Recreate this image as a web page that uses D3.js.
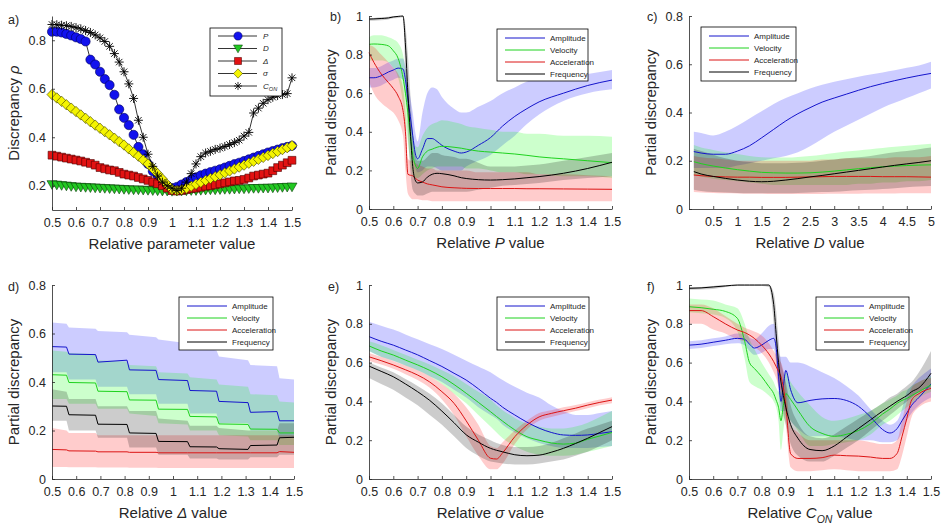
<!DOCTYPE html>
<html><head><meta charset="utf-8">
<script src="https://cdn.jsdelivr.net/npm/d3@7"></script>
<style>
body{margin:0;background:#fff}
svg{display:block}
text{font-family:"Liberation Sans",Arial,Helvetica,sans-serif;fill:#262626}
</style>
</head><body>
<svg id="chart" width="944" height="526"></svg>
<script>
// ---------- tick labels ----------
const xTicks = [0.5,0.6,0.7,0.8,0.9,1,1.1,1.2,1.3,1.4,1.5];
const cXTicks = [0.5,1,1.5,2,2.5,3,3.5,4,4.5,5];
const yTicksA = [0.2,0.4,0.6,0.8];
const yTicks1 = [0,0.2,0.4,0.6,0.8,1];
const yTicks08 = [0,0.2,0.4,0.6,0.8];
const seriesNames = ["Amplitude","Velocity","Acceleration","Frequency"];

// ---------- panel a ----------
const aX = [0.50,0.52,0.54,0.56,0.58,0.60,0.62,0.64,0.66,0.68,0.70,0.72,0.74,0.76,0.78,0.80,0.82,0.84,0.86,0.88,0.90,0.92,0.94,0.96,0.98,1.00,1.02,1.04,1.06,1.08,1.10,1.12,1.14,1.16,1.18,1.20,1.22,1.24,1.26,1.28,1.30,1.32,1.34,1.36,1.38,1.40,1.42,1.44,1.46,1.48,1.50];
const aP = [.835,.835,.832,.826,.82,.812,.805,.795,.72,.70,.67,.64,.615,.575,.515,.48,.45,.41,.36,.33,.29,.26,.24,.22,.20,.19,.195,.205,.215,.225,.235,.243,.25,.256,.262,.268,.275,.282,.289,.295,.302,.309,.316,.323,.33,.337,.343,.349,.355,.36,.365];
const aD = [.205,.203,.201,.199,.197,.195,.194,.193,.192,.191,.19,.189,.188,.187,.186,.185,.184,.183,.183,.182,.181,.18,.179,.178,.178,.177,.178,.178,.179,.18,.18,.181,.182,.183,.183,.184,.185,.185,.186,.187,.187,.188,.189,.189,.19,.19,.191,.192,.193,.194,.195];
const aDelta = [.326,.322,.318,.314,.31,.306,.302,.297,.292,.285,.275,.27,.265,.262,.255,.248,.244,.24,.234,.228,.222,.215,.208,.2,.19,.18,.178,.18,.184,.188,.19,.194,.198,.2,.204,.208,.212,.216,.22,.222,.226,.232,.24,.244,.248,.252,.262,.275,.285,.295,.305];
const aSigma = [.576,.562,.548,.534,.52,.506,.492,.478,.464,.45,.437,.423,.41,.396,.382,.368,.352,.337,.322,.306,.29,.27,.25,.228,.205,.185,.18,.184,.19,.198,.206,.214,.222,.23,.237,.245,.253,.261,.269,.277,.285,.293,.301,.309,.317,.325,.333,.341,.349,.357,.365];
const aCon = [.865,.864,.862,.86,.857,.852,.847,.84,.832,.822,.81,.795,.775,.745,.71,.67,.62,.56,.47,.4,.33,.28,.24,.215,.2,.19,.18,.19,.215,.25,.29,.32,.335,.342,.35,.355,.362,.37,.378,.388,.405,.42,.5,.52,.54,.555,.565,.572,.576,.58,.645];

// ---------- panel b ----------
const bX = [0.5,0.52,0.55,0.58,0.6,0.62,0.64,0.65,0.66,0.67,0.68,0.69,0.7,0.72,0.74,0.76,0.78,0.8,0.85,0.88,0.9,0.95,1.0,1.05,1.1,1.15,1.2,1.3,1.4,1.5];
const bAmp   = [.68,.68,.69,.71,.72,.73,.725,.67,.57,.48,.38,.29,.26,.31,.365,.365,.35,.33,.3,.29,.295,.33,.37,.43,.48,.52,.555,.6,.64,.668];
const bAmpLo = [.63,.63,.64,.66,.67,.68,.67,.6,.5,.4,.3,.22,.19,.2,.22,.22,.21,.2,.2,.2,.22,.25,.28,.33,.38,.44,.49,.56,.6,.62];
const bAmpHi = [.73,.73,.74,.76,.77,.78,.78,.74,.66,.58,.5,.4,.35,.5,.6,.63,.62,.58,.52,.5,.5,.53,.56,.6,.63,.66,.68,.69,.7,.72];
const bVel   = [.853,.855,.853,.845,.82,.78,.68,.6,.5,.38,.28,.23,.21,.27,.3,.31,.32,.325,.32,.315,.31,.3,.295,.29,.285,.278,.27,.26,.25,.24];
const bVelLo = [.77,.77,.77,.76,.73,.68,.55,.45,.35,.25,.18,.16,.16,.18,.2,.21,.22,.22,.22,.22,.21,.21,.2,.19,.19,.18,.18,.17,.17,.16];
const bVelHi = [.89,.9,.9,.89,.88,.86,.8,.72,.62,.5,.4,.33,.32,.38,.42,.44,.45,.46,.45,.44,.43,.42,.41,.4,.4,.39,.39,.38,.38,.375];
const bAcc   = [.81,.76,.7,.655,.625,.585,.51,.4,.18,.175,.172,.16,.15,.14,.13,.125,.12,.115,.11,.108,.107,.106,.106,.106,.106,.105,.105,.104,.103,.102];
const bAccLo = [.66,.6,.55,.52,.5,.46,.38,.2,.08,.06,.05,.05,.05,.045,.045,.04,.04,.04,.04,.04,.04,.04,.04,.04,.04,.04,.04,.04,.04,.04];
const bAccHi = [.85,.84,.8,.76,.73,.7,.63,.5,.26,.25,.25,.24,.23,.22,.21,.21,.2,.2,.2,.2,.2,.19,.19,.19,.19,.19,.18,.18,.175,.17];
const bFreq   = [.984,.985,.987,.99,.995,.998,1.0,.85,.6,.4,.22,.15,.135,.14,.165,.18,.185,.183,.172,.162,.158,.152,.15,.152,.156,.162,.168,.185,.21,.242];
const bFreqLo = [.975,.976,.978,.982,.988,.99,.993,.7,.4,.2,.1,.08,.07,.07,.08,.09,.09,.09,.09,.09,.09,.1,.11,.12,.125,.13,.135,.15,.16,.17];
const bFreqHi = [.99,.99,.993,.996,1,1,1,.95,.8,.6,.4,.28,.25,.25,.27,.29,.29,.28,.27,.26,.26,.24,.22,.22,.22,.225,.23,.25,.27,.29];

// ---------- panel c ----------
const cX = [0.1,0.25,0.5,0.75,1,1.25,1.5,1.75,2,2.25,2.5,2.75,3,3.25,3.5,3.75,4,4.25,4.5,4.75,5];
const cAmp   = [.238,.232,.227,.227,.24,.262,.295,.33,.365,.395,.42,.443,.46,.476,.492,.507,.52,.532,.543,.553,.562];
const cAmpLo = [.17,.17,.17,.17,.18,.19,.2,.21,.22,.235,.26,.29,.32,.345,.37,.395,.42,.44,.46,.48,.5];
const cAmpHi = [.32,.315,.305,.32,.345,.375,.405,.435,.46,.48,.5,.515,.527,.538,.548,.557,.566,.575,.585,.595,.61];
const cVel   = [.196,.188,.178,.17,.163,.157,.152,.15,.149,.149,.15,.153,.157,.162,.167,.171,.175,.178,.18,.182,.183];
const cVelLo = [.14,.135,.125,.12,.115,.11,.105,.1,.1,.1,.1,.1,.1,.1,.105,.105,.11,.11,.115,.115,.12];
const cVelHi = [.265,.255,.245,.235,.228,.22,.215,.213,.213,.216,.22,.225,.232,.238,.243,.248,.253,.258,.262,.266,.27];
const cAcc   = [.141,.138,.135,.133,.132,.132,.131,.131,.131,.132,.133,.134,.135,.135,.135,.135,.134,.134,.134,.133,.132];
const cAccLo = [.07,.068,.066,.065,.064,.063,.063,.062,.062,.062,.062,.062,.063,.063,.063,.064,.064,.064,.065,.065,.065];
const cAccHi = [.22,.215,.21,.205,.2,.2,.2,.2,.2,.2,.2,.205,.205,.21,.21,.21,.21,.215,.215,.215,.22];
const cFreq   = [.155,.145,.135,.127,.12,.115,.113,.115,.12,.126,.133,.139,.146,.153,.16,.167,.174,.181,.187,.193,.2];
const cFreqLo = [.08,.075,.07,.068,.066,.065,.065,.065,.065,.066,.068,.07,.072,.075,.078,.08,.083,.086,.09,.093,.095];
const cFreqHi = [.25,.24,.225,.21,.2,.195,.19,.19,.19,.192,.195,.2,.205,.21,.215,.22,.228,.235,.24,.248,.255];

// ---------- panel d ----------
const dX = [0.5,0.56,0.57,0.68,0.69,0.81,0.82,0.93,0.94,1.06,1.07,1.18,1.19,1.31,1.32,1.43,1.44,1.5];
const dAmp   = [.546,.544,.515,.513,.482,.49,.45,.448,.41,.406,.365,.362,.32,.315,.275,.278,.24,.24];
const dAmpLo = [.44,.44,.41,.41,.38,.38,.35,.35,.31,.31,.27,.27,.23,.23,.2,.2,.17,.17];
const dAmpHi = [.645,.64,.625,.62,.61,.605,.595,.585,.575,.56,.55,.53,.505,.49,.47,.465,.415,.41];
const dVel   = [.43,.428,.398,.396,.362,.36,.326,.325,.288,.287,.258,.256,.227,.225,.206,.205,.19,.19];
const dVelLo = [.33,.33,.31,.31,.29,.29,.27,.26,.23,.225,.2,.2,.18,.175,.16,.16,.14,.14];
const dVelHi = [.53,.525,.52,.515,.49,.485,.47,.465,.44,.435,.42,.41,.39,.38,.35,.345,.32,.315];
const dAcc   = [.122,.12,.116,.115,.112,.112,.11,.11,.108,.108,.108,.108,.108,.108,.108,.108,.113,.11];
const dAccLo = [.05,.05,.048,.048,.047,.047,.046,.046,.045,.045,.045,.045,.045,.045,.045,.045,.045,.045];
const dAccHi = [.21,.2,.19,.19,.18,.18,.18,.18,.18,.18,.18,.18,.18,.18,.18,.18,.18,.18];
const dFreq   = [.301,.3,.265,.263,.226,.225,.19,.188,.155,.154,.133,.132,.125,.122,.138,.14,.17,.172];
const dFreqLo = [.24,.24,.2,.2,.17,.17,.13,.13,.1,.1,.085,.085,.08,.08,.09,.09,.1,.1];
const dFreqHi = [.37,.36,.33,.33,.3,.3,.28,.28,.25,.24,.22,.22,.21,.2,.2,.2,.23,.23];

// ---------- panel e ----------
const eX = [0.5,0.55,0.6,0.65,0.7,0.75,0.8,0.85,0.9,0.95,1.0,1.025,1.05,1.1,1.15,1.2,1.25,1.3,1.35,1.4,1.45,1.5];
const eAmp   = [.734,.71,.69,.665,.64,.61,.58,.545,.51,.465,.416,.395,.37,.33,.293,.262,.24,.227,.225,.227,.235,.244];
const eAmpLo = [.66,.63,.61,.585,.56,.53,.5,.46,.42,.37,.33,.31,.28,.24,.21,.185,.17,.16,.16,.16,.165,.17];
const eAmpHi = [.81,.79,.77,.745,.72,.695,.67,.64,.61,.58,.55,.53,.51,.475,.445,.42,.38,.35,.33,.33,.34,.35];
const eVel   = [.686,.66,.639,.613,.588,.56,.527,.487,.442,.395,.347,.322,.298,.253,.218,.2,.186,.18,.185,.205,.222,.24];
const eVelLo = [.66,.63,.61,.585,.56,.53,.49,.44,.39,.33,.27,.24,.21,.17,.14,.125,.12,.12,.125,.14,.155,.17];
const eVelHi = [.71,.69,.665,.64,.615,.59,.56,.53,.49,.45,.41,.38,.355,.315,.285,.27,.26,.26,.27,.29,.32,.35];
const eAcc   = [.63,.61,.588,.563,.536,.5,.45,.39,.3,.2,.107,.103,.135,.218,.278,.32,.338,.352,.365,.381,.395,.407];
const eAccLo = [.61,.59,.568,.54,.51,.47,.41,.33,.22,.12,.05,.05,.08,.18,.255,.3,.32,.335,.35,.365,.38,.39];
const eAccHi = [.65,.63,.608,.585,.56,.53,.49,.44,.37,.28,.17,.16,.19,.25,.3,.34,.355,.37,.382,.396,.41,.422];
const eFreq   = [.582,.555,.527,.49,.45,.405,.35,.29,.228,.19,.158,.148,.14,.125,.12,.123,.138,.158,.183,.21,.24,.27];
const eFreqLo = [.52,.49,.46,.42,.38,.33,.28,.22,.16,.12,.09,.085,.08,.075,.075,.08,.09,.1,.12,.14,.17,.2];
const eFreqHi = [.6,.575,.55,.515,.48,.44,.39,.33,.27,.23,.2,.185,.175,.165,.165,.17,.185,.21,.235,.26,.28,.3];

// ---------- panel f ----------
const fX = [0.5,0.55,0.6,0.65,0.7,0.73,0.75,0.77,0.8,0.83,0.85,0.86,0.87,0.88,0.89,0.9,0.92,0.95,1.0,1.05,1.1,1.15,1.2,1.25,1.3,1.33,1.36,1.38,1.4,1.42,1.45,1.5];
const fAmp   = [.69,.695,.705,.715,.725,.72,.695,.675,.69,.715,.725,.68,.53,.4,.48,.56,.46,.393,.405,.413,.415,.405,.375,.32,.255,.237,.26,.3,.34,.38,.42,.49];
const fAmpLo = [.67,.675,.685,.695,.7,.69,.66,.64,.65,.67,.67,.6,.45,.35,.35,.35,.3,.26,.22,.22,.22,.21,.2,.2,.19,.19,.2,.24,.3,.34,.38,.42];
const fAmpHi = [.71,.715,.725,.735,.75,.75,.73,.72,.75,.79,.8,.77,.65,.63,.63,.63,.6,.6,.58,.55,.52,.48,.43,.36,.3,.28,.3,.36,.45,.48,.52,.57];
const fVel   = [.888,.883,.875,.864,.828,.71,.6,.57,.528,.476,.44,.407,.37,.3,.38,.44,.41,.355,.27,.235,.22,.23,.25,.285,.335,.36,.39,.405,.415,.43,.45,.485];
const fVelLo = [.86,.855,.848,.83,.76,.62,.5,.48,.46,.43,.4,.37,.3,.15,.25,.33,.3,.25,.17,.17,.18,.19,.2,.23,.28,.3,.33,.35,.37,.39,.42,.45];
const fVelHi = [.93,.925,.92,.9,.88,.8,.72,.67,.6,.54,.5,.47,.45,.45,.5,.55,.5,.45,.38,.32,.3,.31,.33,.35,.39,.41,.43,.45,.46,.48,.5,.53];
const fAcc   = [.868,.868,.837,.8,.768,.755,.742,.725,.69,.645,.605,.58,.555,.528,.47,.38,.13,.106,.106,.11,.123,.12,.118,.113,.106,.106,.132,.218,.312,.407,.44,.467];
const fAccLo = [.8,.8,.77,.75,.72,.71,.7,.68,.65,.6,.55,.52,.48,.45,.38,.28,.06,.04,.04,.045,.05,.045,.04,.04,.04,.04,.05,.12,.22,.32,.37,.4];
const fAccHi = [.9,.9,.88,.84,.8,.78,.77,.76,.74,.7,.66,.64,.62,.6,.56,.48,.28,.24,.2,.2,.2,.2,.2,.19,.18,.18,.2,.3,.4,.47,.5,.52];
const fFreq   = [.983,.985,.99,.995,1,1,1,1,1,1,.9,.75,.6,.5,.43,.37,.28,.21,.152,.146,.17,.215,.26,.305,.35,.375,.4,.415,.43,.45,.47,.545];
const fFreqLo = [.975,.977,.98,.99,.995,.995,.995,.995,.995,.99,.8,.62,.48,.4,.33,.28,.18,.12,.09,.09,.12,.16,.2,.25,.3,.33,.36,.38,.4,.42,.45,.47];
const fFreqHi = [.99,.99,.995,1,1,1,1,1,1,1,.96,.87,.72,.6,.55,.5,.38,.29,.22,.21,.23,.27,.31,.35,.39,.42,.44,.46,.48,.5,.55,.66];

// ---------- drawing ----------
const svg = d3.select('#chart');
svg.append('rect').attr('width',944).attr('height',526).attr('fill','#fff');
const AX = '#262626';
const lineColors = ['#1414cc','#1ed21e','#dc1414','#000000'];
const bandColors = ['#0000ff','#00ff00','#ff0000','#000000'];
const bandOpacity = [0.2,0.2,0.2,0.2];
const fmt = d => String(Math.round(d*10)/10);

function styleAxis(sel){
  sel.attr('font-family',null).attr('font-size',null);
  sel.select('.domain').attr('stroke',AX).attr('stroke-width',0.8);
  sel.selectAll('.tick line').attr('stroke',AX).attr('stroke-width',0.8);
  sel.selectAll('.tick text').attr('fill',AX).style('font-size','12.5px');
}

function richText(t, parts, size){
  // parts: [text, italic, subscript-start, subscript-end]
  parts.forEach(p => {
    const ts = t.append('tspan').text(p[0]);
    if (p[1]) ts.attr('font-style','italic');
    if (p[2]) ts.attr('dy', size*0.3).style('font-size', (size*0.7)+'px');
    if (p[3]) ts.attr('dy', -size*0.3);
  });
}

function axes(g, x, y, cfg){
  g.append('g').attr('transform',`translate(0,${cfg.b})`)
    .call(d3.axisBottom(x).tickValues(cfg.xt).tickFormat(fmt).tickSizeInner(-3).tickSizeOuter(0).tickPadding(8.5))
    .call(styleAxis);
  g.append('g').attr('transform',`translate(${cfg.l},0)`)
    .call(d3.axisLeft(y).tickValues(cfg.yt).tickFormat(fmt).tickSizeInner(-3).tickSizeOuter(0).tickPadding(6))
    .call(styleAxis);
  const xt = g.append('text').attr('x',(cfg.l+cfg.r)/2).attr('y',cfg.b+39)
    .attr('text-anchor','middle').style('font-size','15px');
  richText(xt, cfg.xlabel, 15);
  const yt = g.append('text').attr('transform',`translate(${cfg.l-33},${(cfg.t+cfg.b)/2}) rotate(-90)`)
    .attr('text-anchor','middle').style('font-size','15px');
  richText(yt, cfg.ylabel, 15);
  g.append('text').attr('x',cfg.letter[0]).attr('y',cfg.letter[1]).attr('dy','0.35em')
    .style('font-size','12.5px').text(cfg.id+')');
}

// ---- panel a ----
(function(){
  const cfg = {id:'a', l:52, r:292, t:16, b:210, xt:xTicks, yt:yTicksA, letter:[8,20],
    xlabel:[['Relative parameter value']], ylabel:[['Discrepancy '],['ρ',true]]};
  const x = d3.scaleLinear().domain([0.5,1.5]).range([cfg.l,cfg.r]);
  const y = d3.scaleLinear().domain([0.1,0.9]).range([cfg.b,cfg.t]);
  const g = svg.append('g');
  const sym = {
    circle: d3.symbol(d3.symbolCircle, 66)(),
    tri: 'M-5,-3.9L5,-3.9L0,4.8Z',
    square: 'M-3.9,-3.9H3.9V3.9H-3.9Z',
    diamond: 'M0,-5.2L5,0L0,5.2L-5,0Z',
    star: 'M-4.5,0H4.5M0,-4.5V4.5M-3.2,-3.2L3.2,3.2M-3.2,3.2L3.2,-3.2'
  };
  const series = [
    {vals:aP, label:[['P',true]], s:'circle', fill:'#1212ee', stroke:'#00005a'},
    {vals:aD, label:[['D',true]], s:'tri', fill:'#22c822', stroke:'#0a3d0a'},
    {vals:aDelta, label:[['Δ',true]], s:'square', fill:'#e21212', stroke:'#4a0000'},
    {vals:aSigma, label:[['σ',true]], s:'diamond', fill:'#f4f400', stroke:'#3d3d00'},
    {vals:aCon, label:[['C',true],['ON',true,true]], s:'star', fill:'none', stroke:'#000'}
  ];
  const line = d3.line().x(d=>x(d[0])).y(d=>y(d[1]));
  series.forEach(sr => {
    const pts = aX.map((v,i)=>[v, sr.vals[i]]);
    g.append('path').attr('d',line(pts)).attr('fill','none').attr('stroke','#000').attr('stroke-width',0.8);
    g.selectAll(null).data(pts).enter().append('path')
      .attr('transform',d=>`translate(${x(d[0])},${y(d[1])})`)
      .attr('d',sym[sr.s]).attr('fill',sr.fill).attr('stroke',sr.stroke)
      .attr('stroke-width', sr.s==='star'?0.9:0.6);
  });
  axes(g,x,y,cfg);
  const L = {x:210,y:28,w:72,h:68};
  const lg = g.append('g');
  lg.append('rect').attr('x',L.x).attr('y',L.y).attr('width',L.w).attr('height',L.h)
    .attr('fill','#fff').attr('stroke','#000').attr('stroke-width',0.8);
  series.forEach((sr,i)=>{
    const yy = L.y+8+i*12.5;
    lg.append('line').attr('x1',L.x+8).attr('x2',L.x+47).attr('y1',yy).attr('y2',yy).attr('stroke','#000').attr('stroke-width',0.8);
    lg.append('path').attr('transform',`translate(${L.x+28},${yy}) scale(0.9)`).attr('d',sym[sr.s])
      .attr('fill',sr.fill).attr('stroke',sr.stroke).attr('stroke-width', sr.s==='star'?0.9:0.6);
    const t = lg.append('text').attr('x',L.x+53).attr('y',yy).attr('dy','0.35em').style('font-size','8px');
    richText(t, sr.label, 8);
  });
})();

// ---- panels b-f ----
const panels = [
  {id:'b', l:369, r:612, t:16, b:209, xd:[0.5,1.5], yd:[0,1], xt:xTicks, yt:yTicks1, letter:[330,17],
   X:bX, S:[[bAmp,bAmpLo,bAmpHi],[bVel,bVelLo,bVelHi],[bAcc,bAccLo,bAccHi],[bFreq,bFreqLo,bFreqHi]],
   leg:[497,29,91,52], xlabel:[['Relative '],['P',true],[' value']], curve:d3.curveMonotoneX},
  {id:'c', l:689, r:931, t:16, b:209, xd:[0,5], yd:[0,0.8], xt:cXTicks, yt:yTicks08, letter:[647,17],
   X:cX, S:[[cAmp,cAmpLo,cAmpHi],[cVel,cVelLo,cVelHi],[cAcc,cAccLo,cAccHi],[cFreq,cFreqLo,cFreqHi]],
   leg:[701,27,95,54], xlabel:[['Relative '],['D',true],[' value']], curve:d3.curveMonotoneX},
  {id:'d', l:52, r:294, t:285, b:479, xd:[0.5,1.5], yd:[0,0.8], xt:xTicks, yt:yTicks08, letter:[8,287],
   X:dX, S:[[dAmp,dAmpLo,dAmpHi],[dVel,dVelLo,dVelHi],[dAcc,dAccLo,dAccHi],[dFreq,dFreqLo,dFreqHi]],
   leg:[179,297,94,53], xlabel:[['Relative '],['Δ',true],[' value']], curve:d3.curveLinear},
  {id:'e', l:369, r:612, t:285, b:479, xd:[0.5,1.5], yd:[0,1], xt:xTicks, yt:yTicks1, letter:[328,287],
   X:eX, S:[[eAmp,eAmpLo,eAmpHi],[eVel,eVelLo,eVelHi],[eAcc,eAccLo,eAccHi],[eFreq,eFreqLo,eFreqHi]],
   leg:[497,297,92,53], xlabel:[['Relative '],['σ',true],[' value']], curve:d3.curveMonotoneX},
  {id:'f', l:689, r:931, t:285, b:479, xd:[0.5,1.5], yd:[0,1], xt:xTicks, yt:yTicks1, letter:[647,287],
   X:fX, S:[[fAmp,fAmpLo,fAmpHi],[fVel,fVelLo,fVelHi],[fAcc,fAccLo,fAccHi],[fFreq,fFreqLo,fFreqHi]],
   leg:[816,297,93,53], xlabel:[['Relative '],['C',true],['ON',true,true],[' value',false,false,true]], curve:d3.curveMonotoneX}
];

panels.forEach(cfg => {
  cfg.ylabel = [['Partial discrepancy']];
  const x = d3.scaleLinear().domain(cfg.xd).range([cfg.l,cfg.r]);
  const y = d3.scaleLinear().domain(cfg.yd).range([cfg.b,cfg.t]);
  const g = svg.append('g');
  const area = d3.area().x(d=>x(d.x)).y0(d=>y(d.lo)).y1(d=>y(d.hi)).curve(cfg.curve);
  const line = d3.line().x(d=>x(d.x)).y(d=>y(d.m)).curve(cfg.curve);
  const data = cfg.S.map(s => cfg.X.map((v,i)=>({x:v, m:s[0][i], lo:s[1][i], hi:s[2][i]})));
  data.forEach((d,k)=>{
    g.append('path').attr('d',area(d)).attr('fill',bandColors[k]).attr('fill-opacity',bandOpacity[k]).attr('stroke','none');
  });
  data.forEach((d,k)=>{
    g.append('path').attr('d',line(d)).attr('fill','none').attr('stroke',lineColors[k]).attr('stroke-width',1);
  });
  axes(g,x,y,cfg);
  const [lx,ly,lw,lh] = cfg.leg;
  const lg = g.append('g');
  lg.append('rect').attr('x',lx).attr('y',ly).attr('width',lw).attr('height',lh)
    .attr('fill','#fff').attr('stroke','#000').attr('stroke-width',0.8);
  seriesNames.forEach((nm,k)=>{
    const yy = ly+9+k*12;
    lg.append('line').attr('x1',lx+8).attr('x2',lx+48).attr('y1',yy).attr('y2',yy).attr('stroke',lineColors[k]).attr('stroke-width',1);
    lg.append('text').attr('x',lx+53).attr('y',yy).attr('dy','0.35em').style('font-size','8px').text(nm);
  });
});
</script>
</body></html>
